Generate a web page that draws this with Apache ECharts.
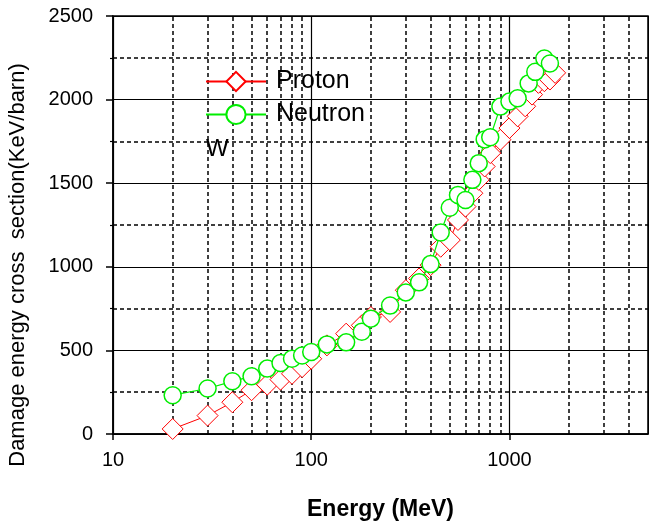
<!DOCTYPE html>
<html>
<head>
<meta charset="utf-8">
<script src="https://cdn.jsdelivr.net/npm/echarts@6/dist/echarts.min.js"></script>
<style>
  html, body { margin: 0; padding: 0; background: #fff; }
  #main { width: 649px; height: 526px; }
</style>
</head>
<body>
<div id="main"></div>
<script>
// energies in MeV, damage energy cross section in KeV/barn
const protonE = [20, 30, 40, 50, 60, 70, 80, 90, 100, 120, 150, 180, 200, 250, 300, 350, 400, 450, 500, 550, 600, 650, 700, 750, 800, 900, 1000, 1100, 1200, 1300, 1400, 1500, 1600, 1700];
const protonY = [30, 110, 190, 262, 295, 325, 360, 400, 450, 530, 600, 650, 700, 730, 860, 930, 1010, 1120, 1160, 1280, 1360, 1440, 1520, 1600, 1680, 1760, 1830, 1900, 1960, 2030, 2100, 2110, 2120, 2160];

const neutronE = [20, 30, 40, 50, 60, 70, 80, 90, 100, 120, 150, 180, 200, 250, 300, 350, 400, 450, 500, 550, 600, 650, 700, 750, 800, 900, 1000, 1100, 1250, 1350, 1500, 1600];
const neutronY = [232, 272, 315, 345, 391, 425, 450, 470, 490, 536, 548, 612, 690, 768, 847, 907, 1016, 1205, 1353, 1430, 1400, 1520, 1620, 1762, 1775, 1958, 1988, 2008, 2097, 2166, 2246, 2216];

// dashed minor grid positions
const minorX = [20, 30, 40, 50, 60, 70, 80, 90, 200, 300, 400, 500, 600, 700, 800, 900, 2000, 3000, 4000];
const minorY = [250, 750, 1250, 1750, 2250];

const font = '"Liberation Sans", Arial, sans-serif';

function pairs(xs, ys) {
  return xs.map((x, i) => [x, ys[i]]);
}

const chart = echarts.init(document.getElementById('main'), null, { renderer: 'canvas' });

const dashed = { type: [4, 3], width: 1.5, color: '#000' };

const option = {
  animation: false,
  backgroundColor: '#fff',
  grid: {
    left: 113,
    right: 1,
    top: 16,
    bottom: 90,
    show: true,
    borderColor: '#000',
    borderWidth: 1.5
  },
  legend: {
    data: ['Proton', 'Neutron'],
    orient: 'vertical',
    left: 205,
    top: 69,
    padding: 0,
    itemWidth: 60,
    itemHeight: 24,
    itemGap: 8,
    textStyle: { fontSize: 25, color: '#000', fontFamily: font, padding: [0, 0, 0, 5] }
  },
  graphic: [{
    type: 'text',
    left: 206,
    top: 137,
    style: { text: 'W', fontSize: 24, fill: '#000', fontFamily: font }
  }, {
    type: 'text',
    x: 18,
    y: 265,
    rotation: Math.PI / 2,
    style: {
      text: 'Damage energy cross  section(KeV/barn)',
      fontSize: 22,
      fill: '#000',
      fontFamily: font,
      align: 'center',
      verticalAlign: 'middle'
    }
  }],
  xAxis: {
    type: 'log',
    logBase: 10,
    min: 10,
    max: 5000,
    name: 'Energy (MeV)',
    nameLocation: 'middle',
    nameGap: 64,
    nameTextStyle: { fontSize: 23, fontWeight: 'bold', color: '#000', fontFamily: font },
    axisLine: { lineStyle: { color: '#000', width: 1.5 } },
    axisTick: { show: true, inside: false, length: 6, lineStyle: { color: '#000', width: 1.5 } },
    axisLabel: {
      fontSize: 20,
      color: '#000',
      fontFamily: font,
      margin: 16,
      showMaxLabel: false,
      formatter: function (v) {
        const p = Math.log10(v);
        return Math.abs(p - Math.round(p)) < 1e-6 ? String(Math.round(v)) : '';
      }
    },
    splitLine: { show: true, lineStyle: { color: '#000', width: 1.2 } }
  },
  yAxis: {
    type: 'value',
    min: 0,
    max: 2500,
    interval: 500,
    axisLine: { show: true, lineStyle: { color: '#000', width: 1.5 } },
    axisTick: { show: true, inside: false, length: 7, lineStyle: { color: '#000', width: 1.5 } },
    minorTick: { show: true, splitNumber: 2, length: 3, lineStyle: { color: '#000', width: 1.2 } },
    axisLabel: {
      fontSize: 20,
      color: '#000',
      fontFamily: font,
      margin: 20,
      formatter: function (v) { return String(v); }
    },
    splitLine: { show: true, lineStyle: { color: '#000', width: 1.2 } }
  },
  series: [
    {
      name: 'grid',
      type: 'line',
      data: [],
      silent: true,
      z: 1,
      markLine: {
        z: 1,
        silent: true,
        symbol: 'none',
        label: { show: false },
        lineStyle: dashed,
        emphasis: { disabled: true },
        data: minorX.map(v => ({ xAxis: v })).concat(minorY.map(v => ({ yAxis: v })))
      }
    },
    {
      name: 'Proton',
      type: 'line',
      z: 3,
      data: pairs(protonE, protonY),
      symbol: 'diamond',
      symbolSize: [21, 21],
      lineStyle: { color: '#ff0000', width: 1 },
      itemStyle: { color: '#fff', borderColor: '#ff0000', borderWidth: 1 }
    },
    {
      name: 'Neutron',
      type: 'line',
      z: 4,
      data: pairs(neutronE, neutronY),
      symbol: 'circle',
      symbolSize: 17,
      lineStyle: { color: '#00ee00', width: 1.2 },
      itemStyle: { color: '#fff', borderColor: '#00ee00', borderWidth: 1.5 }
    }
  ]
};

chart.setOption(option);
</script>
</body>
</html>
